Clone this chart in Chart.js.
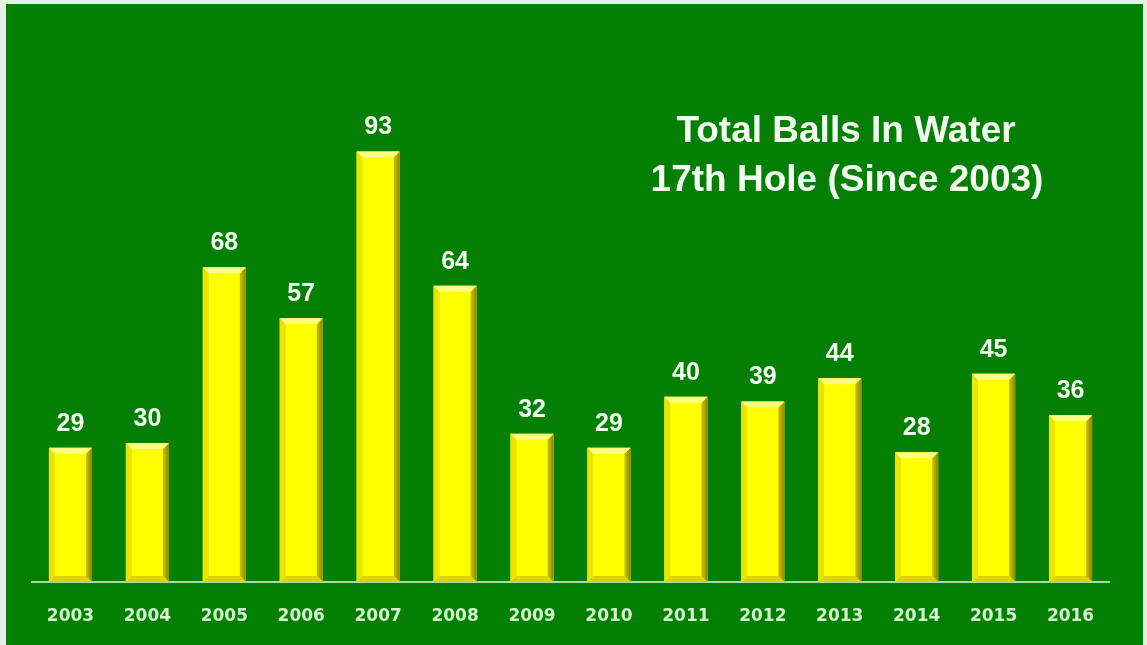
<!DOCTYPE html>
<html>
<head>
<meta charset="utf-8">
<script src="https://cdn.jsdelivr.net/npm/chart.js@4.4.1/dist/chart.umd.min.js"></script>
<style>
  html, body { margin: 0; padding: 0; background: #e4f2e2; }
  #wrap { position: absolute; left: 0; top: 0; width: 1147px; height: 645px; }
</style>
</head>
<body>
<div id="wrap"><canvas id="ballsChart" width="1147" height="645"></canvas></div>
<script>
// data
const years = ['2003', '2004', '2005', '2006', '2007', '2008', '2009', '2010', '2011', '2012', '2013', '2014', '2015', '2016'];
const ballsInWater = [29, 30, 68, 57, 93, 64, 32, 29, 40, 39, 44, 28, 45, 36];
const titleLines = ['Total Balls In Water', '17th Hole (Since 2003)'];

// green slide background, with a thin light border top/left
const backgroundPlugin = {
    id: 'slideBackground',
    beforeDraw(chart) {
        const ctx = chart.ctx;
        ctx.save();
        ctx.fillStyle = '#e4f2e2';
        ctx.fillRect(0, 0, chart.width, chart.height);
        ctx.fillStyle = '#038003';
        ctx.fillRect(6, 4, chart.width - 10, chart.height - 4);
        ctx.restore();
    }
};

// bevelled edges on each bar, like the old office "3D" fill
const bevelPlugin = {
    id: 'bevel',
    afterDatasetsDraw(chart) {
        const ctx = chart.ctx;
        const meta = chart.getDatasetMeta(0);
        meta.data.forEach(bar => {
            const l = bar.x - bar.width / 2;
            const r = bar.x + bar.width / 2;
            const t = bar.y;
            const b = bar.base;
            const d = 6;
            const face = (pts, color) => {
                ctx.beginPath();
                ctx.moveTo(pts[0][0], pts[0][1]);
                pts.slice(1).forEach(p => ctx.lineTo(p[0], p[1]));
                ctx.closePath();
                ctx.fillStyle = color;
                ctx.fill();
            };
            ctx.save();
            const rightGrad = ctx.createLinearGradient(r - d, 0, r, 0);
            rightGrad.addColorStop(0, '#c9c100');
            rightGrad.addColorStop(1, '#8f8800');
            face([[l, t], [l + d, t + d], [l + d, b - d], [l, b]], '#ebe400');   // left
            face([[r, t], [r - d, t + d], [r - d, b - d], [r, b]], rightGrad);   // right
            face([[l, b], [l + d, b - d], [r - d, b - d], [r, b]], '#dcd400');   // bottom
            face([[l, t], [r, t], [r - d, t + d], [l + d, t + d]], '#ffff80');   // top
            ctx.restore();
        });
    }
};

// value above each bar and the title text in the upper right
const labelPlugin = {
    id: 'labels',
    afterDatasetsDraw(chart) {
        const ctx = chart.ctx;
        const meta = chart.getDatasetMeta(0);
        ctx.save();
        ctx.fillStyle = '#f4fff2';
        ctx.font = 'bold 25px "Liberation Sans", Arial, sans-serif';
        ctx.textAlign = 'center';
        ctx.textBaseline = 'alphabetic';
        meta.data.forEach((bar, i) => {
            ctx.fillText(ballsInWater[i], bar.x, bar.y - 17);
        });

        ctx.font = 'bold 37px "Liberation Sans", Arial, sans-serif';
        ctx.textBaseline = 'middle';
        ctx.fillText(titleLines[0], 846, 132);
        ctx.fillText(titleLines[1], 847, 181);
        ctx.restore();
    }
};

const ctx = document.getElementById('ballsChart').getContext('2d');
new Chart(ctx, {
    type: 'bar',
    data: {
        labels: years,
        datasets: [{
            data: ballsInWater,
            backgroundColor: '#ffff00',
            borderWidth: 0,
            barPercentage: 0.56,
            categoryPercentage: 1.0
        }]
    },
    options: {
        responsive: false,
        animation: false,
        layout: {
            padding: { left: 32, right: 38, top: 119, bottom: 0 }
        },
        plugins: {
            legend: { display: false },
            tooltip: { enabled: false }
        },
        scales: {
            x: {
                grid: { display: false, drawTicks: false },
                border: { display: true, color: '#9ee09a', width: 2 },
                ticks: {
                    color: '#d4f5cc',
                    padding: 24,
                    font: { family: '"DejaVu Sans", Verdana, sans-serif', weight: 'bold', size: 17 }
                },
                afterFit(scale) { scale.height = 63; }
            },
            y: {
                display: false,
                min: 0,
                max: 100
            }
        }
    },
    plugins: [backgroundPlugin, bevelPlugin, labelPlugin]
});
</script>
</body>
</html>
